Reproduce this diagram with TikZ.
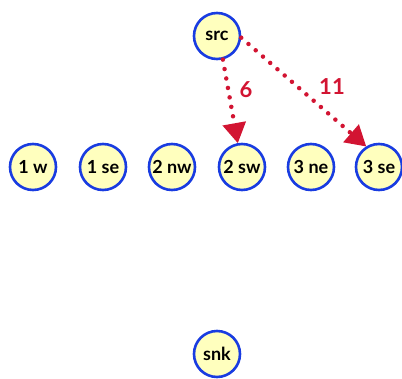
\documentclass[tikz,border=0pt]{standalone}
\usepackage{fontspec}
\setmainfont{Lato}
\usetikzlibrary{arrows.meta}
\definecolor{nodefill}{RGB}{255,255,190}
\definecolor{nodeline}{RGB}{25,60,225}
\definecolor{edgecol}{RGB}{210,20,50}
\begin{document}
\begin{tikzpicture}[x=1pt,y=-1pt,
  vtx/.style={circle,draw=nodeline,fill=nodefill,line width=2.6pt,minimum size=46pt,inner sep=0pt,font=\fontsize{18}{18}\selectfont\bfseries},
  flow/.style={draw=edgecol,line width=4.5pt,line cap=round,dash pattern=on 0pt off 9.6pt,
    -{Triangle[width=24pt,length=20pt,line width=0pt,fill=edgecol]}},
  wt/.style={text=edgecol,font=\fontsize{22}{22}\selectfont\bfseries}]
\useasboundingbox (0,0) rectangle (402,378);
\node[vtx] (src) at (217,36) {src};
\node[vtx] (w1) at (33,167) {1 w};
\node[vtx] (se1) at (103,167) {1 se};
\node[vtx] (nw2) at (172,167) {2 nw};
\node[vtx] (sw2) at (242,167) {2 sw};
\node[vtx] (ne3) at (311,167) {3 ne};
\node[vtx] (se3) at (379,167) {3 se};
\node[vtx] (snk) at (217,354) {snk};
\draw[flow] (src.-76) -- (sw2.100);
\draw[flow] (src.-4) -- (se3.122);
\node[wt] (l6) at (246,90) {6};
\node[wt] (l11) at (332,87) {11};
\end{tikzpicture}
\end{document}
